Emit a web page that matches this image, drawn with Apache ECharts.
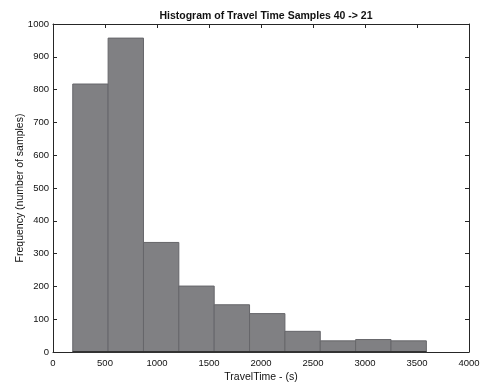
<!DOCTYPE html>
<html><head><meta charset="utf-8">
<script src="https://cdn.jsdelivr.net/npm/echarts@6/dist/echarts.min.js"></script>
<style>html,body{margin:0;padding:0;background:#fff}#c{width:480px;height:383px}</style>
</head><body><div id="c"></div>
<script>
var binEdges = [190, 530, 870, 1210, 1550, 1890, 2230, 2570, 2910, 3250, 3590];
var counts = [817, 957, 334, 201, 144, 117, 63, 34, 38, 34];
var xTicks = [0, 500, 1000, 1500, 2000, 2500, 3000, 3500, 4000];
var yTicks = [0, 100, 200, 300, 400, 500, 600, 700, 800, 900, 1000];

var data = counts.map(function (c, i) { return [binEdges[i], binEdges[i + 1], c]; });
var font = 'Liberation Sans, Arial, sans-serif';
var chart = echarts.init(document.getElementById('c'));
function axisLine() { return { show: true, onZero: false, lineStyle: { color: '#262626', width: 1 } }; }
function tick() { return { inside: true, length: 4, lineStyle: { color: '#262626' } }; }
function plain(v) { return String(v); }
chart.setOption({
  animation: false,
  title: { text: 'Histogram of Travel Time Samples 40 -> 21', left: 261, top: 6, textAlign: 'center',
    textStyle: { fontFamily: font, fontSize: 10.5, fontWeight: 'bold', color: '#111' } },
  grid: { left: 53, right: 11, top: 24, bottom: 31, containLabel: false, outerBoundsMode: 'none' },
  xAxis: [{
    type: 'value', min: xTicks[0], max: xTicks[xTicks.length - 1], interval: 500,
    axisLine: axisLine(), axisTick: tick(), splitLine: { show: false },
    axisLabel: { fontFamily: font, fontSize: 9.5, color: '#111', margin: 6, formatter: plain },
    name: 'TravelTime - (s)', nameLocation: 'middle', nameGap: 20, nameMoveOverlap: false,
    nameTextStyle: { fontFamily: font, fontSize: 10.5, color: '#111', verticalAlign: 'top' }
  }, {
    type: 'value', position: 'top', min: 0, max: 4000, interval: 500,
    axisLine: axisLine(), axisTick: tick(), axisLabel: { show: false }, splitLine: { show: false }
  }],
  yAxis: [{
    type: 'value', min: yTicks[0], max: yTicks[yTicks.length - 1], interval: 100,
    axisLine: axisLine(), axisTick: tick(), splitLine: { show: false },
    axisLabel: { fontFamily: font, fontSize: 9.5, color: '#111', margin: 4, formatter: plain },
    name: 'Frequency (number of samples)', nameLocation: 'middle', nameGap: 27, nameMoveOverlap: false,
    nameTextStyle: { fontFamily: font, fontSize: 10.5, color: '#111', verticalAlign: 'bottom' }
  }, {
    type: 'value', position: 'right', min: 0, max: 1000, interval: 100,
    axisLine: axisLine(), axisTick: tick(), axisLabel: { show: false }, splitLine: { show: false }
  }],
  series: [{
    type: 'custom',
    data: data,
    encode: { x: [0, 1], y: 2 },
    renderItem: function (params, api) {
      var p0 = api.coord([api.value(0), api.value(2)]);
      var p1 = api.coord([api.value(1), 0]);
      return {
        type: 'rect',
        shape: { x: p0[0], y: p0[1], width: p1[0] - p0[0], height: p1[1] - p0[1] },
        style: { fill: '#808083', stroke: '#66666a', lineWidth: 1 }
      };
    },
    z: 2
  }, {
    type: 'line',
    data: [[binEdges[0], 0], [binEdges[binEdges.length - 1], 0]],
    symbol: 'none',
    lineStyle: { color: '#333', width: 2 },
    z: 3
  }]
});
</script></body></html>
